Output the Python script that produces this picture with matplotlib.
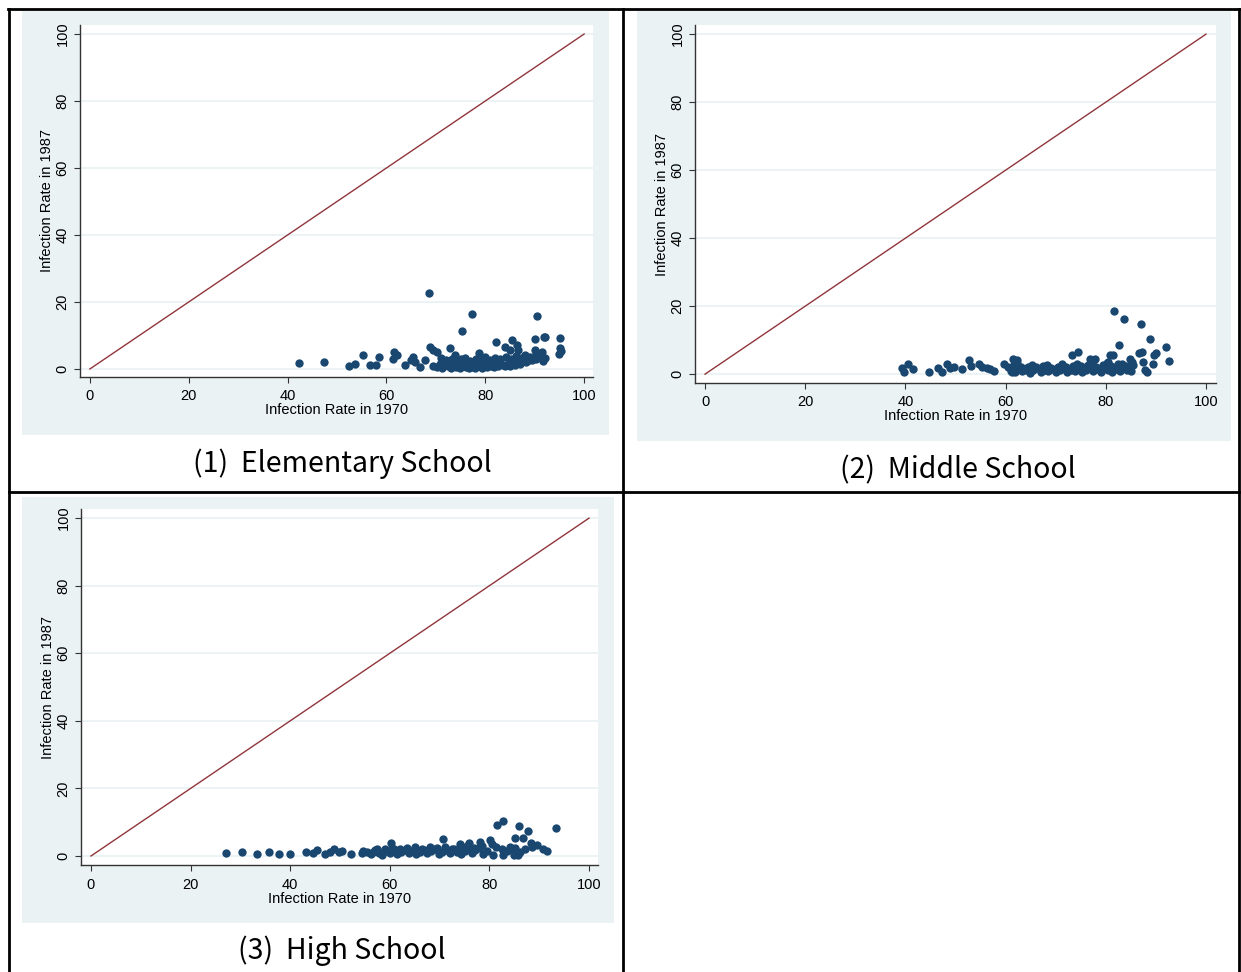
import matplotlib
matplotlib.use("Agg")
import matplotlib.pyplot as plt
from matplotlib.patches import Rectangle
from matplotlib.lines import Line2D

W, H = 1241, 972

# panel captions and axis titles
CAPTIONS = ["(1)  Elementary School", "(2)  Middle School", "(3)  High School"]
XLABEL = "Infection Rate in 1970"
YLABEL = "Infection Rate in 1987"
TICKS = [0, 20, 40, 60, 80, 100]

# elementary school: rate in 1970 vs rate in 1987
elem_1970 = [42.3, 47.4, 52.5, 53.6, 55.3, 56.7, 57.9, 58.6, 61.5, 62.2, 61.3, 63.8, 65.4, 65.8,
             64.9, 66.7, 67.9, 68.8, 69.5, 70.2, 72.9, 68.7, 77.3, 90.4, 75.3, 82.2, 85.4, 90.0,
             91.8, 92.1, 95.1, 95.1, 95.3, 95.0, 84.0, 85.0, 86.4, 86.7, 90.1, 91.4, 92.1, 78.8,
             69.5, 70.3, 70.8, 71.2, 71.8, 72.4, 73.0, 73.5, 74.0, 74.4, 74.9, 75.4, 75.8, 76.2,
             76.7, 77.1, 77.6, 78.0, 78.5, 79.0, 79.4, 79.9, 80.3, 80.8, 81.2, 81.7, 82.1, 82.6,
             83.1, 83.5, 84.0, 84.5, 85.0, 85.5, 86.0, 86.5, 87.0, 87.6, 88.2, 88.8, 89.5, 90.3,
             71.0, 72.0, 73.2, 74.2, 75.0, 76.0, 77.0, 78.2, 79.2, 80.0, 81.0, 82.0, 83.0, 84.2,
             85.2, 86.2, 87.2, 88.0, 89.0, 90.0, 91.0, 73.8, 76.5, 79.6, 82.8, 85.8, 88.6, 91.6]
elem_1987 = [1.8, 2.1, 0.8, 1.5, 4.2, 1.1, 1.1, 3.7, 5.2, 4.2, 3.0, 1.1, 3.5, 2.2,
             2.7, 0.7, 2.7, 6.7, 5.7, 5.2, 6.2, 22.6, 16.3, 15.9, 11.4, 8.1, 8.7, 8.9,
             9.5, 9.4, 9.2, 6.2, 5.5, 4.5, 6.7, 5.7, 7.2, 5.7, 5.7, 5.2, 3.2, 4.7,
             1.0, 0.6, 1.5, 0.4, 1.2, 0.8, 0.3, 1.4, 0.6, 1.1, 0.4, 0.9, 1.5, 0.5,
             0.3, 1.2, 0.7, 0.4, 1.3, 0.8, 0.4, 1.0, 0.6, 1.4, 0.8, 0.5, 1.2, 0.9,
             1.6, 1.1, 0.8, 1.5, 1.0, 1.9, 1.3, 2.0, 1.6, 2.4, 2.0, 2.6, 2.8, 3.0,
             3.2, 2.6, 3.0, 2.4, 2.9, 3.4, 2.5, 3.1, 2.7, 3.6, 2.8, 3.3, 2.9, 3.7,
             3.1, 4.0, 3.4, 4.2, 3.5, 4.0, 3.8, 4.2, 1.9, 2.2, 2.4, 2.6, 2.8, 2.5]

# middle school
mid_1970 = [39.3, 39.7, 40.6, 41.5, 44.8, 46.6, 47.4, 48.4, 49.0, 49.8, 51.2, 52.6, 53.0, 54.6,
            55.2, 56.2, 56.9, 57.7, 59.7, 61.5, 62.2, 60.5, 61.2, 74.5, 73.3, 81.6, 83.7, 87.0,
            88.8, 82.7, 92.1, 90.0, 89.6, 92.7, 86.7, 87.2, 87.5, 88.2, 87.8, 89.5, 76.8, 77.8,
            80.8, 81.5, 80.5, 84.8, 85.2,
            61.0, 61.8, 62.5, 63.2, 64.0, 64.8, 65.5, 66.2, 67.0, 67.8, 68.5, 69.2, 70.0, 70.8,
            71.5, 72.2, 73.0, 73.8, 74.5, 75.2, 76.0, 76.8, 77.5, 78.2, 79.0, 79.8, 80.5, 81.2,
            82.0, 82.8, 83.5, 84.2, 85.0, 61.5, 63.0, 64.5, 66.0, 67.5, 69.0, 70.5, 72.0, 73.5,
            75.0, 76.5, 78.0, 79.5, 81.0, 82.5, 84.0, 85.5, 62.2, 65.2, 68.2, 71.2, 74.2, 77.2,
            80.2, 83.2]
mid_1987 = [1.7, 0.7, 2.9, 1.5, 0.7, 1.7, 0.7, 2.9, 1.9, 2.1, 1.5, 4.3, 2.4, 2.9,
            2.1, 1.7, 1.5, 0.9, 3.1, 4.6, 4.1, 2.1, 0.5, 6.6, 5.6, 18.7, 16.2, 14.9,
            10.2, 8.7, 7.9, 6.1, 5.6, 3.9, 6.1, 6.6, 3.6, 0.7, 1.2, 3.1, 4.6, 4.6,
            5.6, 5.6, 3.6, 4.6, 3.6,
            1.0, 0.5, 1.6, 0.8, 1.3, 0.4, 1.1, 1.7, 0.6, 1.2, 0.8, 1.5, 0.5, 1.1,
            1.8, 0.7, 1.3, 0.9, 1.6, 0.6, 1.2, 2.0, 0.8, 1.4, 0.6, 1.9, 1.1, 0.7,
            1.5, 0.9, 2.2, 1.3, 0.8, 2.4, 2.2, 2.0, 2.1, 2.3, 1.9, 2.2, 2.0, 2.4,
            2.3, 2.6, 2.2, 2.7, 2.5, 2.9, 2.4, 2.8, 3.3, 2.8, 2.7, 3.0, 2.9, 3.2,
            3.4, 3.1]

# high school
high_1970 = [27.2, 30.3, 33.4, 35.7, 37.8, 40.0, 43.2, 44.6, 45.4, 47.0, 47.9, 48.7, 49.7, 50.5,
             52.3, 54.4, 54.7, 56.7, 57.4, 60.2, 70.6, 74.1, 75.8, 78.1, 80.1, 80.5, 81.6, 82.8,
             86.0, 87.7, 93.4, 85.2, 86.7, 82.5, 81.3, 84.1, 85.1, 88.4, 88.5, 89.5, 90.8, 91.5,
             80.8, 82.8, 85.0, 85.8,
             55.5, 56.2, 57.0, 57.8, 58.5, 59.2, 60.0, 60.8, 61.5, 62.2, 63.0, 63.8, 64.5, 65.2,
             66.0, 66.8, 67.5, 68.2, 69.0, 69.8, 70.5, 71.2, 72.0, 72.8, 73.5, 74.2, 75.0, 75.8,
             76.5, 77.2, 78.0, 78.8, 79.5, 57.5, 59.0, 60.5, 62.0, 63.5, 65.0, 66.5, 68.0, 69.5,
             71.0, 72.5, 74.0, 75.5, 77.0, 78.5, 83.5, 84.5, 86.2, 87.2]
high_1987 = [0.8, 1.2, 0.6, 1.3, 0.5, 0.6, 1.2, 0.8, 1.8, 0.6, 1.1, 2.0, 1.3, 1.6,
             0.6, 0.8, 1.6, 1.3, 1.8, 3.9, 4.9, 3.6, 3.8, 4.2, 4.7, 3.6, 9.1, 10.4,
             8.9, 7.5, 8.4, 5.2, 5.2, 2.0, 2.8, 2.8, 2.3, 3.9, 2.6, 3.3, 2.0, 1.6,
             0.3, 0.3, 0.3, 0.3,
             1.2, 0.6, 1.7, 0.9, 0.4, 1.5, 1.0, 2.0, 0.7, 1.3, 1.8, 0.8, 1.4, 0.5,
             1.1, 1.9, 0.8, 1.4, 2.1, 0.6, 1.2, 1.7, 0.9, 2.2, 1.3, 0.5, 1.6, 2.3,
             1.0, 1.8, 2.4, 0.7, 1.5, 2.0, 2.2, 2.5, 2.1, 2.3, 2.6, 2.0, 2.7, 2.4,
             2.8, 2.2, 2.6, 2.9, 2.5, 3.1, 1.4, 1.9, 1.2, 2.1]

BG = "#eaf2f3"
NAVY = "#1a476f"
MAROON = "#90353b"

plt.rcParams['font.family'] = ['Liberation Sans', 'DejaVu Sans']

fig = plt.figure(figsize=(W / 100, H / 100), dpi=100)


def fx(x):
    return x / W


def fy(y):
    return 1 - y / H


def add_panel(rect, bg, xlim, ylim, xs, ys, caption, cap_xy):
    # stata-like gray graph region
    x0, y0, x1, y1 = bg
    fig.add_artist(Rectangle((fx(x0), fy(y1)), (x1 - x0) / W, (y1 - y0) / H,
                             transform=fig.transFigure, facecolor=BG, edgecolor='none', zorder=0))
    a0, b0, a1, b1 = rect
    ax = fig.add_axes([fx(a0), fy(b1), (a1 - a0) / W, (b1 - b0) / H])
    ax.set_facecolor('white')
    ax.set_xlim(*xlim)
    ax.set_ylim(*ylim)
    ax.set_xticks(TICKS)
    ax.set_yticks(TICKS)
    for t in TICKS:
        ax.axhline(t, color=BG, lw=1.3, zorder=1)
    ax.plot([0, 100], [0, 100], color=MAROON, lw=1.0, zorder=2)
    ax.scatter(xs, ys, s=36, color=NAVY, linewidths=0, zorder=3)
    for side in ['top', 'right']:
        ax.spines[side].set_visible(False)
    for side in ['left', 'bottom']:
        ax.spines[side].set_color('#333333')
        ax.spines[side].set_linewidth(1.0)
    ax.tick_params(direction='out', length=4, width=0.8, color='#333333',
                   labelsize=10.5, pad=3.5)
    ax.tick_params(axis='x', pad=5)
    for lab in ax.get_yticklabels():
        lab.set_rotation(90)
        lab.set_va('center')
    ax.set_xlabel(XLABEL, fontsize=10.5, labelpad=0)
    ax.set_ylabel(YLABEL, fontsize=10.5, labelpad=1)
    fig.text(fx(cap_xy[0]), fy(cap_xy[1]), caption, ha='center', va='center',
             fontsize=20.5, family=['Noto Sans CJK KR', 'DejaVu Sans'])
    return ax


add_panel((80, 25, 593, 377), (22, 11, 609, 435), (-2.0, 101.8), (-2.4, 102.7),
          elem_1970, elem_1987, CAPTIONS[0], (342, 464))
add_panel((695, 25, 1216, 383), (637, 11, 1231, 441), (-2.0, 102.0), (-2.6, 102.7),
          mid_1970, mid_1987, CAPTIONS[1], (958, 470))
add_panel((81, 509, 598, 865), (22, 497, 614, 923), (-2.0, 101.8), (-2.66, 102.7),
          high_1970, high_1987, CAPTIONS[2], (342, 951))

# table borders
lw = 2.0
for (xa, ya, xb, yb) in [(8, 9.5, 1240, 9.5), (9, 9, 9, 972), (1239, 9, 1239, 972),
                         (623, 9, 623, 972), (9, 492, 1239, 492)]:
    fig.add_artist(Line2D([fx(xa), fx(xb)], [fy(ya), fy(yb)], transform=fig.transFigure,
                          color='black', lw=lw, zorder=5))

fig.savefig("out.png", dpi=100)
